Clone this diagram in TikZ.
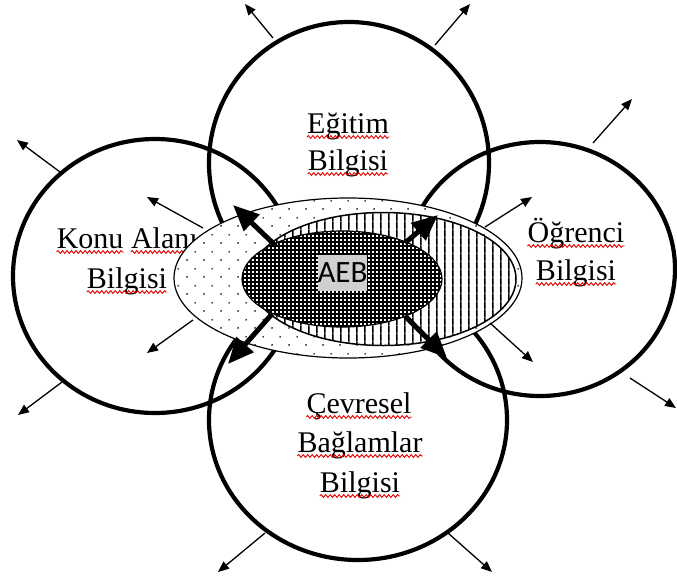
\documentclass[tikz,border=0pt]{standalone}
\usepackage{fontspec}
\setmainfont{Liberation Serif}
\newfontfamily\aebfont{Carlito}
\usetikzlibrary{arrows.meta,patterns,decorations.pathmorphing,shapes.geometric}

% sparse staggered dots for the outer knowledge ellipse
\pgfdeclarepatternformonly{sparsedots}{\pgfpointorigin}{\pgfqpoint{16.6pt}{16.6pt}}{\pgfqpoint{16.6pt}{16.6pt}}{%
  \pgfpathcircle{\pgfqpoint{4.15pt}{4.15pt}}{0.9pt}%
  \pgfpathcircle{\pgfqpoint{12.45pt}{12.45pt}}{0.9pt}%
  \pgfusepath{fill}}
% vertical hatching for the middle ellipse
\pgfdeclarepatternformonly{vstripes}{\pgfpointorigin}{\pgfqpoint{8.3pt}{8.3pt}}{\pgfqpoint{8.3pt}{8.3pt}}{%
  \pgfpathrectangle{\pgfqpoint{3.5pt}{0pt}}{\pgfqpoint{1.4pt}{8.3pt}}%
  \pgfusepath{fill}}
% dense black grid with white holes for the core
\pgfdeclarepatternformonly{densegrid}{\pgfpointorigin}{\pgfqpoint{4.4pt}{4.4pt}}{\pgfqpoint{4.4pt}{4.4pt}}{%
  \pgfpathrectangle{\pgfpointorigin}{\pgfqpoint{4.4pt}{2.1pt}}%
  \pgfpathrectangle{\pgfpointorigin}{\pgfqpoint{2.1pt}{4.4pt}}%
  \pgfusepath{fill}}

\begin{document}
\begin{tikzpicture}[x=1pt,y=-1pt,
  ring/.style={draw, line width=4.2pt, ellipse, inner sep=0pt},
  blob/.style={draw, ellipse, inner sep=0pt, line width=1.2pt, preaction={fill=white}},
  thinarrow/.style={-{Triangle[length=11pt,width=9pt]}, line width=1.3pt},
  thickarrow/.style={-{Triangle[length=26pt,width=22pt]}, line width=5pt},
  word/.style={font=\fontsize{30}{36}\selectfont, inner sep=0pt, anchor=base},
  squig/.style={draw=red!90!black, line width=0.9pt, decorate,
    decoration={snake, segment length=4.5pt, amplitude=1.4pt}},
]
\useasboundingbox (0,0) rectangle (677,581);
\fill[white] (0,0) rectangle (677,581);

% the four knowledge domains
\node[ring, minimum width=280pt, minimum height=282pt] (egitim) at (349,163) {};
\node[ring, minimum width=284pt, minimum height=274pt] (konu) at (155,276) {};
\node[ring, minimum width=270pt, minimum height=254pt] (ogrenci) at (540,269) {};
\node[ring, minimum width=298pt, minimum height=280pt] (cevre) at (358,420) {};

% outward arrows on the domain circles
\foreach \n/\a/\b in {eA/{273,38}/{245,4}, eB/{435,45}/{470,4},
                      kA/{60,172}/{17,140}, kB/{62,382}/{18,415},
                      oA/{593,143}/{632,99}, oB/{630,378}/{676,408},
                      cA/{265,533}/{218,572}, cB/{448,533}/{492,572}} {
  \coordinate (\n s) at (\a);
  \coordinate (\n e) at (\b);
  \draw[thinarrow] (\n s) -- (\n e);
}

% domain labels
\node[word] (t1) at (348,133) {Eğitim};
\node[word] (t2) at (348,170) {Bilgisi};
\node[word, anchor=base west] (l1a) at (56.6,248) {Konu};
\node[word, anchor=base west] (l1b) at (130.8,248) {Alanı};
\node[word] (l2) at (127,288) {Bilgisi};
\node[word] (r1) at (576,242) {Öğrenci};
\node[word] (r2) at (576,280) {Bilgisi};
\node[word] (b1) at (359,413) {Çevresel};
\node[word] (b2) at (360,452) {Bağlamlar};
\node[word] (b3) at (360,492) {Bilgisi};
\foreach \w in {t1,t2,l1a,l1b,l2,r1,r2,b1,b2,b3}
  \draw[squig] ([yshift=-4pt]\w.base west) -- ([yshift=-4pt]\w.base east);

% growing knowledge ellipses
\node[blob, minimum width=348pt, minimum height=160pt, pattern=sparsedots] (outer) at (348,278) {};
\node[blob, minimum width=266pt, minimum height=133pt, line width=1.5pt, pattern=vstripes] (middle) at (383,279) {};
\node[blob, minimum width=200pt, minimum height=96pt, pattern=densegrid] (core) at (342,279) {};

% inner arrows leaving the outer ellipse
\foreach \n/\a/\b in {iA/{203,228}/{147,197}, iB/{193,320}/{147,353},
                      iC/{485,227}/{532,197}, iD/{490,323}/{533,362}} {
  \coordinate (\n s) at (\a);
  \coordinate (\n e) at (\b);
  \draw[thinarrow] (\n s) -- (\n e);
}

% heavy arrows from the core
\foreach \n/\a/\b in {hA/{276,246}/{233,205}, hB/{405,243}/{438,215},
                      hC/{272,314}/{228,364}, hD/{405,316}/{447,358}} {
  \coordinate (\n s) at (\a);
  \coordinate (\n e) at (\b);
  \draw[thickarrow] (\n s) -- (\n e);
}

% core label
\node[fill=black!19, minimum width=49pt, minimum height=36pt, inner sep=0pt,
      font=\aebfont\fontsize{31}{34}\selectfont] (aeb) at (342.5,273) {AEB};
\end{tikzpicture}
\end{document}
